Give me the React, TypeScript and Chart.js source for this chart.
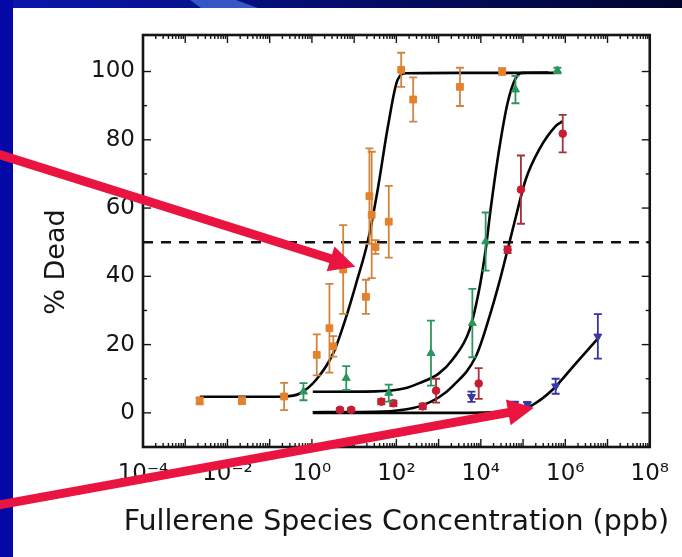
import React, { useEffect, useRef } from 'react';
import { Chart, registerables } from 'chart.js';

Chart.register(...registerables);

// ---------------- data ----------------
// x = concentration (ppb), y = % dead, err = half height of the error bar
const orangeX = [2.2e-3, 2.2e-2, 0.22, 1.3, 2.6, 3.2, 5.5, 19, 23, 26, 32, 66, 130, 250, 3200, 3.2e4];
const orangeY = [3.5, 3.6, 4.8, 17, 24.8, 19.5, 42, 34, 63.5, 58, 48.6, 56, 100.5, 91.8, 95.5, 100];
const orangeErr = [1, 1, 4, 6, 13, 3, 13, 5, 14, 18.5, 2, 10.5, 5, 6.5, 5.6, 1];

const greenX = [0.63, 6.5, 66, 660, 6300, 1.3e4, 6.6e4, 6.5e5];
const greenY = [6.2, 10.2, 5.8, 17.5, 26.3, 50.2, 94.7, 100.3];
const greenErr = [2.5, 3.5, 2.5, 9.5, 10, 8.5, 4, 0.8];

const redX = [4.6, 8.5, 44, 85, 420, 870, 8900, 4.3e4, 8.9e4, 8.7e5];
const redY = [0.9, 0.9, 3.3, 2.8, 1.9, 6.5, 8.6, 47.8, 65.4, 81.8];
const redErr = [0.5, 0.5, 0.8, 0.8, 0.8, 3.5, 4.5, 1, 10, 5.5];

const blueX = [6000, 6.3e4, 1.26e5, 5.9e5, 5.9e6];
const blueY = [4.7, 2.6, 2.5, 7.8, 22.4];
const blueErr = [1.5, 0.7, 0.7, 2.2, 6.5];

// fitted dose-response curves
const orangeFitX = [2.2e-3, 3.2e-2, 0.22, 0.5, 1.26, 3.2, 6.5, 11.2, 21, 36, 63, 107, 170, 3200, 5.6e5];
const orangeFitY = [4.7, 4.7, 4.8, 5.6, 9.7, 17.5, 28.2, 38, 50.2, 65.3, 83.9, 97.6, 99.5, 99.6, 99.6];

const greenFitX = [1.05, 32, 160, 350, 1000, 2100, 5400, 9100, 1.3e4, 1.7e4, 2.7e4, 4.3e4, 6.8e4, 9.5e4, 4e5];
const greenFitY = [6.2, 6.3, 7.2, 8.7, 11.5, 15.5, 24.3, 36, 47.8, 59.5, 77, 90.8, 98.2, 99.6, 99.7];

const redFitX = [1.05, 32, 160, 350, 1000, 2100, 7600, 1.6e4, 2.7e4, 4.3e4, 6.8e4, 1.15e5, 2.4e5, 5.9e5, 8.5e5];
const redFitY = [0.2, 0.3, 1.0, 1.9, 4.5, 7.7, 16.5, 28.2, 38, 47.8, 57.6, 68.3, 77.1, 84, 85.4];

const blueFitX = [1.05, 3200, 6.3e4, 1.66e5, 4.9e5, 1.8e6, 6.3e6];
const blueFitY = [0, 0, 0.5, 2.3, 6.7, 14.6, 22.2];

// 50 % reference line
const halfLineX = [1e-4, 1e8];
const halfLineY = [50, 50];

// axes
const xTickValues = [1e-4, 1e-2, 1, 1e2, 1e4, 1e6, 1e8];
const xTickLabels = ['10\u207B\u2074', '10\u207B\u00B2', '10\u2070', '10\u00B2', '10\u2074', '10\u2076', '10\u2078'];
const yTickValues = [0, 20, 40, 60, 80, 100];
const yMinorValues = [10, 30, 50, 70, 90];
const xTitle = 'Fullerene Species Concentration (ppb)';
const yTitle = '% Dead';

// annotation arrows (data coordinates: tail -> tip)
const arrowTailX = [1e-8, 1e-8];
const arrowTailY = [78, -28.3];
const arrowTipX = [10.7, 1.8e5];
const arrowTipY = [42.8, 1.5];

// ---------------- helpers ----------------
const pts = (xs: number[], ys: number[]) => xs.map((x, i) => ({ x, y: ys[i] }));
const FONT = "'DejaVu Sans', 'Liberation Sans', Arial, sans-serif";

const backgroundPlugin = {
  id: 'slideBackground',
  beforeDraw(chart: any) {
    const { ctx, width, height } = chart;
    ctx.save();
    ctx.fillStyle = '#ffffff';
    ctx.fillRect(0, 0, width, height);
    const g = ctx.createLinearGradient(0, 0, width, 0);
    g.addColorStop(0, '#0a16aa');
    g.addColorStop(0.27, '#071290');
    g.addColorStop(0.4, '#050f78');
    g.addColorStop(1, '#00052e');
    ctx.fillStyle = g;
    ctx.fillRect(0, 0, width, 8);
    ctx.fillStyle = '#3556c4';
    ctx.beginPath();
    ctx.moveTo(190, 0);
    ctx.lineTo(236, 0);
    ctx.lineTo(258, 8);
    ctx.lineTo(201, 8);
    ctx.closePath();
    ctx.fill();
    ctx.fillStyle = '#0308a6';
    ctx.fillRect(0, 0, 13, height);
    ctx.restore();
  },
};

const errorBarPlugin = {
  id: 'errorBars',
  beforeDatasetDraw(chart: any, args: any) {
    const ds = chart.data.datasets[args.index];
    if (!ds.errors) return;
    const { ctx, chartArea: a } = chart;
    const ys = chart.scales.y;
    ctx.save();
    ctx.beginPath();
    ctx.rect(a.left, a.top, a.right - a.left, a.bottom - a.top);
    ctx.clip();
    ctx.strokeStyle = ds.errColor;
    ctx.lineWidth = 1.8;
    args.meta.data.forEach((el: any, i: number) => {
      const e = ds.errors[i];
      const v = ds.data[i].y;
      const t = ys.getPixelForValue(v + e);
      const b = ys.getPixelForValue(v - e);
      const x = el.x;
      ctx.beginPath();
      ctx.moveTo(x, t);
      ctx.lineTo(x, b);
      ctx.moveTo(x - 4, t);
      ctx.lineTo(x + 4, t);
      ctx.moveTo(x - 4, b);
      ctx.lineTo(x + 4, b);
      ctx.stroke();
    });
    ctx.restore();
  },
};

const framePlugin = {
  id: 'frameTicks',
  afterDatasetsDraw(chart: any) {
    const { ctx, chartArea: a } = chart;
    const xs = chart.scales.x;
    const ys = chart.scales.y;
    ctx.save();
    ctx.strokeStyle = '#151515';
    ctx.lineWidth = 1.4;
    const seg = (x0: number, y0: number, x1: number, y1: number) => {
      ctx.beginPath();
      ctx.moveTo(x0, y0);
      ctx.lineTo(x1, y1);
      ctx.stroke();
    };
    for (let d = -4; d <= 8; d++) {
      for (let k = 1; k <= 9; k++) {
        const v = k * Math.pow(10, d);
        if (v > 1.0001e8) break;
        const px = xs.getPixelForValue(v);
        const len = k === 1 ? 8 : 4;
        seg(px, a.bottom, px, a.bottom - len);
        seg(px, a.top, px, a.top + len);
      }
    }
    yTickValues.forEach((v) => {
      const py = ys.getPixelForValue(v);
      seg(a.left, py, a.left + 8, py);
      seg(a.right, py, a.right - 8, py);
    });
    yMinorValues.forEach((v) => {
      const py = ys.getPixelForValue(v);
      seg(a.left, py, a.left + 4, py);
      seg(a.right, py, a.right - 4, py);
    });
    ctx.lineWidth = 2.6;
    ctx.strokeRect(a.left, a.top, a.right - a.left, a.bottom - a.top);
    ctx.restore();
  },
};

const overlayPlugin = {
  id: 'overlay',
  afterDraw(chart: any) {
    const { ctx, chartArea: a } = chart;
    const xs = chart.scales.x;
    const ys = chart.scales.y;

    // x axis title (drawn without Chart.js' max-width squeeze)
    ctx.save();
    ctx.fillStyle = '#151515';
    ctx.font = `28.5px ${FONT}`;
    ctx.textAlign = 'center';
    ctx.textBaseline = 'middle';
    ctx.fillText(xTitle, (a.left + a.right) / 2, 523);
    ctx.restore();

    // y axis title
    ctx.save();
    ctx.translate(57, 262);
    ctx.rotate(-Math.PI / 2);
    ctx.fillStyle = '#151515';
    ctx.font = `27px ${FONT}`;
    ctx.textAlign = 'center';
    ctx.textBaseline = 'middle';
    ctx.fillText(yTitle, 0, 0);
    ctx.restore();

    // arrows
    ctx.save();
    ctx.fillStyle = '#ea1440';
    ctx.strokeStyle = '#ea1440';
    arrowTipX.forEach((_, i) => {
      const x0 = xs.getPixelForValue(arrowTailX[i]);
      const y0 = ys.getPixelForValue(arrowTailY[i]);
      const x1 = xs.getPixelForValue(arrowTipX[i]);
      const y1 = ys.getPixelForValue(arrowTipY[i]);
      const ang = Math.atan2(y1 - y0, x1 - x0);
      const head = 26;
      const hw = 13;
      const bx = x1 - head * Math.cos(ang);
      const by = y1 - head * Math.sin(ang);
      ctx.lineWidth = 9;
      ctx.lineCap = 'butt';
      ctx.beginPath();
      ctx.moveTo(x0, y0);
      ctx.lineTo(bx + 1, by);
      ctx.stroke();
      ctx.beginPath();
      ctx.moveTo(x1, y1);
      ctx.lineTo(bx + hw * Math.sin(ang), by - hw * Math.cos(ang));
      ctx.lineTo(bx - hw * Math.sin(ang), by + hw * Math.cos(ang));
      ctx.closePath();
      ctx.fill();
    });
    ctx.restore();
  },
};

export default function App() {
  const ref = useRef<HTMLCanvasElement | null>(null);

  useEffect(() => {
    if (!ref.current) return;
    const fit = (xs: number[], ys: number[]) => ({
      data: pts(xs, ys),
      showLine: true,
      borderColor: '#050505',
      borderWidth: 2.6,
      pointRadius: 0,
      cubicInterpolationMode: 'monotone',
      order: 2,
    });
    const marks = (
      xs: number[],
      ys: number[],
      errs: number[],
      style: string,
      fill: string,
      err: string,
      radius: number,
      rotation = 0
    ) => ({
      data: pts(xs, ys),
      errors: errs,
      errColor: err,
      showLine: false,
      pointStyle: style,
      pointRotation: rotation,
      pointRadius: radius,
      pointBackgroundColor: fill,
      pointBorderColor: fill,
      pointBorderWidth: 1,
      order: 1,
    });

    const chart = new Chart(ref.current, {
      type: 'scatter',
      data: {
        datasets: [
          marks(orangeX, orangeY, orangeErr, 'rect', '#e5812c', '#cf8440', 4.8),
          marks(greenX, greenY, greenErr, 'triangle', '#27975a', '#2f9560', 4.6),
          marks(redX, redY, redErr, 'circle', '#c81c34', '#a83038', 3.8),
          marks(blueX, blueY, blueErr, 'triangle', '#3838a6', '#34349a', 4.6, 180),
          fit(orangeFitX, orangeFitY),
          fit(greenFitX, greenFitY),
          fit(redFitX, redFitY),
          fit(blueFitX, blueFitY),
          {
            data: pts(halfLineX, halfLineY),
            showLine: true,
            borderColor: '#111',
            borderWidth: 2.4,
            borderDash: [10, 8],
            pointRadius: 0,
            order: 3,
          },
        ] as any,
      },
      options: {
        responsive: false,
        animation: false,
        events: [],
        devicePixelRatio: 1,
        layout: { padding: { top: 35, right: 31, bottom: 0, left: 0 } },
        plugins: { legend: { display: false }, tooltip: { enabled: false } },
        scales: {
          x: {
            type: 'logarithmic',
            position: 'bottom',
            min: 1e-4,
            max: 1e8,
            grid: { display: false, drawTicks: false },
            border: { display: false },
            afterBuildTicks: (s: any) => {
              s.ticks = xTickValues.map((v) => ({ value: v }));
            },
            afterFit: (s: any) => {
              s.height = 110;
            },
            ticks: {
              autoSkip: false,
              maxRotation: 0,
              minRotation: 0,
              padding: 13,
              color: '#151515',
              font: { family: FONT, size: 23 },
              callback: (_v: any, i: number) => xTickLabels[i],
            },
            title: { display: false },
          },
          y: {
            type: 'linear',
            min: -10,
            max: 110.7,
            grid: { display: false, drawTicks: false },
            border: { display: false },
            afterBuildTicks: (s: any) => {
              s.ticks = yTickValues.map((v) => ({ value: v }));
            },
            afterFit: (s: any) => {
              s.width = 143;
            },
            ticks: {
              padding: 8,
              color: '#151515',
              font: { family: FONT, size: 23 },
            },
          },
        },
      } as any,
      plugins: [backgroundPlugin, errorBarPlugin, framePlugin, overlayPlugin],
    });
    return () => chart.destroy();
  }, []);

  return (
    <div style={{ position: 'fixed', left: 0, top: 0, width: 682, height: 557, background: '#fff' }}>
      <canvas ref={ref} width={682} height={557} style={{ display: 'block', width: 682, height: 557 }} />
    </div>
  );
}
